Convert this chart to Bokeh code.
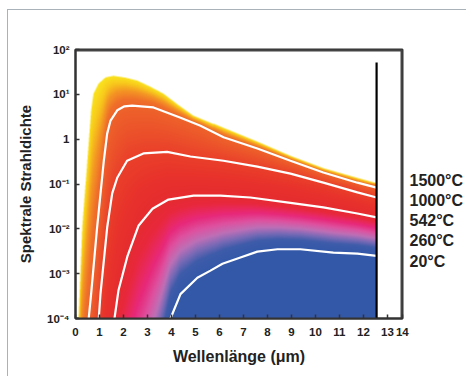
import numpy as np
from bokeh.plotting import figure
from bokeh.models import Range1d, FixedTicker, CustomJSTickFormatter, LogAxis
from bokeh.embed import file_html
from bokeh.resources import INLINE

# ---------------- data ----------------
temperatures = ["1500°C", "1000°C", "542°C", "260°C", "20°C"]

wl_1500 = [0.125, 0.167, 0.28, 0.49, 0.65, 0.75, 0.96, 1.25, 1.58, 2.08, 2.58, 3.125, 3.67, 4.29, 4.92, 6.17, 7.58, 8.96, 10.33, 11.75, 12.55]
rad_1500 = [1e-4, 3.5e-4, 0.011, 0.33, 4.4, 10.5, 17.4, 24.0, 26.0, 23.7, 20.4, 14.9, 10.5, 5.9, 3.4, 1.8, 0.89, 0.43, 0.23, 0.14, 0.107]

wl_1000 = [0.55, 0.65, 0.90, 1.18, 1.32, 1.46, 1.74, 2.04, 2.36, 3.25, 4.38, 5.21, 6.17, 7.58, 8.96, 10.33, 11.75, 12.55]
rad_1000 = [1e-4, 3.5e-4, 0.0107, 0.33, 1.33, 2.6, 4.4, 5.4, 5.6, 5.1, 3.0, 2.0, 1.1, 0.62, 0.33, 0.18, 0.107, 0.083]

wl_542 = [0.97, 1.04, 1.32, 1.53, 1.74, 2.15, 2.83, 3.82, 4.79, 6.17, 7.58, 8.96, 10.33, 11.75, 12.55]
rad_542 = [1e-4, 3.5e-4, 0.0107, 0.062, 0.138, 0.33, 0.48, 0.52, 0.41, 0.33, 0.245, 0.17, 0.107, 0.065, 0.05]

wl_260 = [1.625, 1.79, 2.17, 2.625, 3.21, 3.875, 4.92, 6.04, 7.29, 8.96, 10.33, 11.75, 12.55]
rad_260 = [1e-4, 4.2e-4, 2.5e-3, 0.0117, 0.028, 0.045, 0.055, 0.055, 0.050, 0.038, 0.030, 0.022, 0.018]

wl_20 = [3.96, 4.375, 5.08, 5.625, 6.125, 6.875, 7.58, 8.42, 9.375, 10.75, 11.75, 12.55]
rad_20 = [1e-4, 3.5e-4, 8.1e-4, 1.17e-3, 1.66e-3, 2.3e-3, 3.1e-3, 3.5e-3, 3.5e-3, 2.95e-3, 2.8e-3, 2.5e-3]

cutoff_wl = 12.55      # black vertical line (wavelength)
cutoff_top = 51.0      # its upper end

xtick_values = [0, 1, 2, 3, 4, 5, 6, 7, 8, 9, 10, 11, 12, 13, 13.625]
xtick_labels = ["0", "1", "2", "3", "4", "5", "6", "7", "8", "9", "10", "11", "12", "13", "14"]
ytick_values = [1e-4, 1e-3, 1e-2, 1e-1, 1, 10, 100]
ytick_labels = ["10⁻⁴", "10⁻³", "10⁻²", "10⁻¹", "1", "10¹", "10²"]

curves = [(wl_1500, rad_1500), (wl_1000, rad_1000), (wl_542, rad_542),
          (wl_260, rad_260), (wl_20, rad_20)]

X_END = 13.63
Y_LO, Y_HI = 1e-4, 1e2

# ---------------- gradient fill (image computed from the curves) ----------------
def log_curve(lam, wl, rad):
    wl = np.asarray(wl, float)
    lg = np.log10(np.asarray(rad, float))
    out = np.interp(lam, wl, lg)
    slope = max((lg[1] - lg[0]) / (wl[1] - wl[0]), 3.0)
    left = lam < wl[0]
    out[left] = lg[0] - slope * (wl[0] - lam[left])
    return out

ss = 3
nx, ny = 300, 270
NX, NY = nx * ss, ny * ss
lam = (np.arange(NX) + 0.5) / NX * cutoff_wl
L = np.log10(Y_LO) + (np.arange(NY) + 0.5) / NY * (np.log10(Y_HI) - np.log10(Y_LO))
C = np.array([log_curve(lam, w, r) for (w, r) in curves])
for k in range(1, len(C)):
    C[k] = np.minimum(C[k], C[k - 1] - 1e-3)

Lg = L[:, None]
s = 4.0 + (C[4][None, :] - Lg)
for k in range(3, -1, -1):
    ck, cn = C[k][None, :], C[k + 1][None, :]
    s = np.where(Lg > cn, k + (ck - Lg) / (ck - cn), s)
alpha = (Lg <= C[0][None, :]).astype(float)

stops_s = [0.0, 0.2, 0.45, 0.75, 1.0, 1.5, 2.0, 2.5, 3.0, 3.12, 3.28, 3.42, 3.55, 3.68, 3.8, 4.0, 20]
stops_r = [250, 248, 244, 240, 238, 236, 234, 232, 230, 232, 232, 222, 190, 120, 62, 52, 52]
stops_g = [228, 200, 150, 112, 100, 82, 64, 50, 44, 40, 40, 82, 112, 106, 92, 88, 88]
stops_b = [30, 28, 36, 42, 42, 42, 42, 44, 48, 62, 122, 160, 182, 182, 170, 168, 168]

def down(a):
    return a.reshape(ny, ss, nx, ss).mean(axis=(1, 3))

a_small = down(alpha)
chans = []
for st in (stops_r, stops_g, stops_b):
    c = np.interp(s, stops_s, st)
    cs = down(c * alpha) / np.maximum(a_small, 1e-9)
    chans.append(np.clip(cs, 0, 255))

img = np.zeros((ny, nx), dtype=np.uint32)
view = img.view(dtype=np.uint8).reshape((ny, nx, 4))
view[..., 0] = chans[0].astype(np.uint8)
view[..., 1] = chans[1].astype(np.uint8)
view[..., 2] = chans[2].astype(np.uint8)
view[..., 3] = (a_small * 255).round().astype(np.uint8)

# ---------------- figure ----------------
p = figure(width=466, height=376, x_range=Range1d(0, X_END), y_range=Range1d(Y_LO, Y_HI),
           y_axis_type="log", output_backend="svg", toolbar_location=None,
           min_border_left=75, min_border_right=64, min_border_top=49, min_border_bottom=58)
p.styles = {
    "background-color": "white",
    "background-image": "linear-gradient(#a9b1b9, #a9b1b9), linear-gradient(#a9b1b9, #a9b1b9)",
    "background-size": "1px calc(100% - 9px), calc(100% - 7px) 1px",
    "background-position": "7px 9px, 7px 9px",
    "background-repeat": "no-repeat",
}
p.grid.visible = False
p.background_fill_color = "white"
p.border_fill_color = None
p.outline_line_color = "#333333"
p.outline_line_width = 2

p.image_rgba(image=[img], x=0, y=Y_LO, dw=cutoff_wl, dh=Y_HI - Y_LO)

for (w, r) in curves[1:]:
    p.line(w, r, line_color="white", line_width=2.2)

p.segment(x0=[cutoff_wl], y0=[Y_LO], x1=[cutoff_wl], y1=[cutoff_top],
          line_color="black", line_width=2.2)

# top and right edges of the frame box (half of the width is clipped by the frame)
p.line([0, X_END, X_END], [Y_HI, Y_HI, Y_LO], line_color="#444444", line_width=4)

fmt_code = """
let best = 0;
for (let i = 0; i < vals.length; i++) {
  const d = uselog ? Math.abs(Math.log10(vals[i]) - Math.log10(tick)) : Math.abs(vals[i] - tick);
  const db = uselog ? Math.abs(Math.log10(vals[best]) - Math.log10(tick)) : Math.abs(vals[best] - tick);
  if (d < db) best = i;
}
return labels[best];
"""
p.xaxis.ticker = FixedTicker(ticks=xtick_values)
p.xaxis.formatter = CustomJSTickFormatter(args=dict(vals=xtick_values, labels=xtick_labels, uselog=False), code=fmt_code)
p.yaxis.ticker = FixedTicker(ticks=ytick_values)
p.yaxis.formatter = CustomJSTickFormatter(args=dict(vals=ytick_values, labels=ytick_labels, uselog=True), code=fmt_code)

for ax in (p.xaxis[0], p.yaxis[0]):
    ax.axis_line_color = "#333333"
    ax.axis_line_width = 2
    ax.major_tick_in = 4
    ax.major_tick_out = 0
    ax.major_tick_line_color = "#333333"
    ax.major_tick_line_width = 1.5
    ax.minor_tick_line_color = None
    ax.major_label_text_font = "Liberation Sans"
    ax.major_label_text_font_style = "bold"
    ax.major_label_text_font_size = "11.5px"
    ax.major_label_text_color = "#222222"
    ax.axis_label_text_font = "Liberation Sans"
    ax.axis_label_text_font_style = "bold"
    ax.axis_label_text_color = "#222222"

p.xaxis.axis_label = "Wellenlänge (μm)"
p.xaxis.axis_label_text_font_size = "16px"
p.xaxis.major_label_standoff = 9
p.xaxis.axis_label_standoff = 9
p.yaxis.axis_label = "Spektrale Strahldichte"
p.yaxis.axis_label_text_font_size = "15px"
p.yaxis.major_label_standoff = 6
p.yaxis.axis_label_standoff = 10

# temperature labels at the right, as a right-hand axis
label_pos = [10 ** (-0.92 - 0.45 * i) for i in range(len(temperatures))]
rax = LogAxis(ticker=FixedTicker(ticks=label_pos),
              formatter=CustomJSTickFormatter(args=dict(vals=label_pos, labels=temperatures, uselog=True), code=fmt_code))
rax.axis_line_color = None
rax.major_tick_in = 0
rax.major_tick_out = 0
rax.major_tick_line_color = None
rax.minor_tick_line_color = None
rax.major_label_standoff = 7
rax.major_label_text_font = "Liberation Sans"
rax.major_label_text_font_style = "bold"
rax.major_label_text_font_size = "16px"
rax.major_label_text_color = "#222222"
p.add_layout(rax, "right")

open("out.html", "w").write(file_html(p, INLINE))
